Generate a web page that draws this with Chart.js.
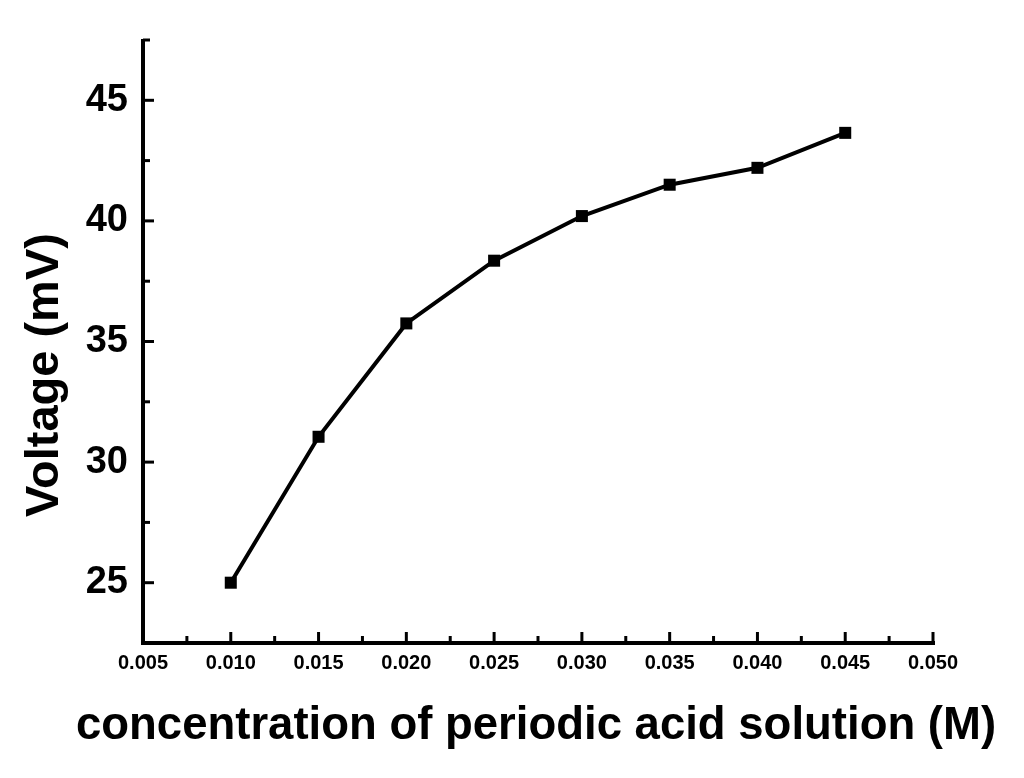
<!DOCTYPE html>
<html>
<head>
<meta charset="utf-8">
<script src="https://cdn.jsdelivr.net/npm/chart.js@4/dist/chart.umd.min.js"></script>
<style>
html,body{margin:0;padding:0;background:#fff;}
#wrap{width:1024px;height:778px;}
</style>
</head>
<body>
<div id="wrap"><canvas id="c" width="1024" height="778"></canvas></div>
<script>
const concentrations = [0.010, 0.015, 0.020, 0.025, 0.030, 0.035, 0.040, 0.045];
const voltages = [25.0, 31.05, 35.75, 38.35, 40.2, 41.5, 42.2, 43.65];
const xTicks = [0.005, 0.010, 0.015, 0.020, 0.025, 0.030, 0.035, 0.040, 0.045, 0.050];
const xMinorTicks = [0.0075, 0.0125, 0.0175, 0.0225, 0.0275, 0.0325, 0.0375, 0.0425, 0.0475];
const yTicks = [25, 30, 35, 40, 45];
const yMinorTicks = [22.5, 27.5, 32.5, 37.5, 42.5, 47.5];
const xTitle = 'concentration of periodic acid solution (M)';
const yTitle = 'Voltage (mV)';

const FONT = "'Liberation Sans', Arial, sans-serif";

const axesDecor = {
  id: 'axesDecor',
  afterDraw(chart) {
    const ctx = chart.ctx;
    const xs = chart.scales.x, ys = chart.scales.y;
    const area = chart.chartArea;
    ctx.save();
    ctx.strokeStyle = '#000';
    ctx.lineWidth = 3;
    ctx.lineCap = 'butt';
    const line = (x1, y1, x2, y2) => { ctx.beginPath(); ctx.moveTo(x1, y1); ctx.lineTo(x2, y2); ctx.stroke(); };
    xTicks.forEach(v => { const p = xs.getPixelForValue(v); line(p, area.bottom, p, area.bottom - 11); });
    xMinorTicks.forEach(v => { const p = xs.getPixelForValue(v); line(p, area.bottom, p, area.bottom - 7); });
    yTicks.forEach(v => { const p = ys.getPixelForValue(v); line(area.left, p, area.left + 11, p); });
    yMinorTicks.forEach(v => { const p = ys.getPixelForValue(v); line(area.left, p, area.left + 7, p); });
    ctx.lineWidth = 4;
    line(area.left, area.top - 1, area.left, area.bottom + 2);
    line(area.left - 2, area.bottom, area.right + 2, area.bottom);

    // axis titles (drawn here so they may extend beyond the plot width, as in the original)
    ctx.fillStyle = '#000';
    ctx.textAlign = 'center';
    ctx.textBaseline = 'middle';
    ctx.font = "bold 45.5px " + FONT;
    ctx.fillText(xTitle, 536, 726);
    ctx.translate(45, 375);
    ctx.rotate(-Math.PI / 2);
    ctx.font = "bold 47px " + FONT;
    ctx.fillText(yTitle, 0, 0);
    ctx.restore();
  }
};

new Chart(document.getElementById('c'), {
  type: 'line',
  data: {
    datasets: [{
      data: concentrations.map((x, i) => ({ x: x, y: voltages[i] })),
      borderColor: '#000',
      backgroundColor: '#000',
      borderWidth: 4,
      pointStyle: 'rect',
      pointRadius: 8.5,
      pointBorderWidth: 0,
      tension: 0,
      fill: false
    }]
  },
  options: {
    responsive: false,
    animation: false,
    devicePixelRatio: 1,
    layout: { padding: { top: 40, right: 91, left: 0, bottom: 0 } },
    plugins: { legend: { display: false }, tooltip: { enabled: false } },
    scales: {
      x: {
        type: 'linear',
        min: 0.005,
        max: 0.050,
        afterBuildTicks: s => { s.ticks = xTicks.map(v => ({ value: v })); },
        afterFit: s => { s.height = 778 - 643; },
        grid: { display: false, drawTicks: false },
        border: { display: false },
        ticks: {
          color: '#000',
          padding: 8,
          maxRotation: 0,
          font: { family: FONT, size: 20, weight: 'bold' },
          callback: v => Number(v).toFixed(3)
        },
        title: { display: false }
      },
      y: {
        type: 'linear',
        min: 22.5,
        max: 47.5,
        afterBuildTicks: s => { s.ticks = yTicks.map(v => ({ value: v })); },
        afterFit: s => { s.width = 143; },
        grid: { display: false, drawTicks: false },
        border: { display: false },
        ticks: {
          color: '#000',
          padding: 15,
          font: { family: FONT, size: 38, weight: 'bold' }
        },
        title: { display: false }
      }
    }
  },
  plugins: [axesDecor]
});
</script>
</body>
</html>
